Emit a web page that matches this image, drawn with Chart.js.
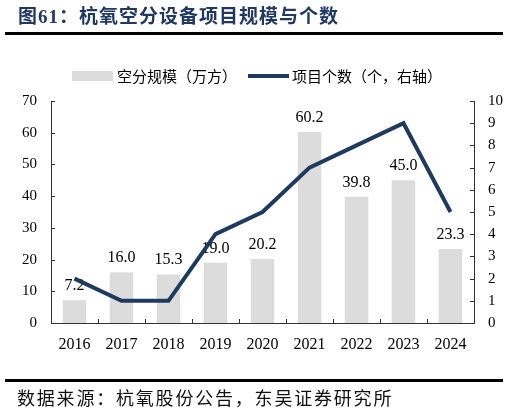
<!DOCTYPE html>
<html><head><meta charset="utf-8">
<script src="https://cdn.jsdelivr.net/npm/chart.js@4"></script>
<style>
html,body{margin:0;padding:0;background:#fff;}
body{width:509px;height:414px;position:relative;overflow:hidden;}
#title{position:absolute;left:18px;top:4px;font-family:"Liberation Serif","Noto Sans CJK SC",serif;font-weight:700;font-size:19px;letter-spacing:1px;color:#1f3864;white-space:nowrap;line-height:26px;}
#tline{position:absolute;left:5px;top:32px;width:498px;height:2.5px;background:#000;}
#bline{position:absolute;left:5px;top:379px;width:498px;height:2.5px;background:#000;}
#foot{position:absolute;left:17px;top:384px;font-family:"Noto Sans CJK SC",sans-serif;font-size:18px;letter-spacing:1.8px;color:#111;white-space:nowrap;line-height:26px;}
canvas{position:absolute;left:0;top:0;}
</style></head>
<body>
<canvas id="c" width="509" height="414"></canvas>
<div id="title">图61：杭氧空分设备项目规模与个数</div>
<div id="tline"></div>
<div id="bline"></div>
<div id="foot">数据来源：杭氧股份公告，东吴证券研究所</div>
<script>
const categories = ['2016','2017','2018','2019','2020','2021','2022','2023','2024'];
const scaleValues = [7.2, 16.0, 15.3, 19.0, 20.2, 60.2, 39.8, 45.0, 23.3];
const projectCounts = [2, 1, 1, 4, 5, 7, 8, 9, 5];
const seriesNames = ['空分规模（万方）', '项目个数（个，右轴）'];

const BAR = '#dcdcdc', LINE = '#1f3a5f';
const serif = '"Liberation Serif", "Times New Roman", serif';
const cjk = '"Noto Sans CJK SC", sans-serif';

const labelsPlugin = {
  id: 'barLabels',
  afterDatasetDraw(chart, args) {
    if (args.index !== 0) return;
    const ctx = chart.ctx;
    ctx.save();
    ctx.font = '16px ' + serif;
    ctx.fillStyle = '#000';
    ctx.textAlign = 'center';
    ctx.textBaseline = 'alphabetic';
    args.meta.data.forEach((el, i) => {
      ctx.fillText(scaleValues[i].toFixed(1), el.x, el.y - 10);
    });
    ctx.restore();
  }
};

const tickPlugin = {
  id: 'innerTicks',
  afterDraw(chart) {
    const ctx = chart.ctx, a = chart.chartArea;
    const y = chart.scales.y, y1 = chart.scales.y1, x = chart.scales.x;
    ctx.save();
    ctx.strokeStyle = '#333';
    ctx.lineWidth = 1;
    ctx.beginPath();
    y.ticks.forEach((t, i) => { const p = Math.round(y.getPixelForTick(i)) + 0.5; ctx.moveTo(a.left, p); ctx.lineTo(a.left + 4, p); });
    y1.ticks.forEach((t, i) => { const p = Math.round(y1.getPixelForTick(i)) + 0.5; ctx.moveTo(a.right, p); ctx.lineTo(a.right - 4, p); });
    const n = categories.length;
    for (let i = 1; i < n; i++) {
      const p = Math.round((x.getPixelForTick(i - 1) + x.getPixelForTick(i)) / 2) + 0.5;
      ctx.moveTo(p, a.bottom); ctx.lineTo(p, a.bottom - 4);
    }
    ctx.stroke();
    ctx.restore();
  }
};

const legendPlugin = {
  id: 'customLegend',
  afterDraw(chart) {
    const ctx = chart.ctx;
    const ds = chart.data.datasets;
    ctx.save();
    ctx.font = '15px ' + cjk;
    const w0 = ctx.measureText(ds[0].label).width;
    const w1 = ctx.measureText(ds[1].label).width;
    const total = 41 + 4 + w0 + 11 + 41 + 3 + w1;
    let xx = 257 - total / 2;
    const cy = 76;
    ctx.fillStyle = ds[0].backgroundColor;
    ctx.fillRect(xx, cy - 5, 41, 10);
    xx += 45;
    ctx.fillStyle = '#000';
    ctx.textAlign = 'left';
    ctx.textBaseline = 'middle';
    ctx.fillText(ds[0].label, xx, cy);
    xx += w0 + 11;
    ctx.strokeStyle = ds[1].borderColor;
    ctx.lineWidth = 4;
    ctx.beginPath(); ctx.moveTo(xx, cy); ctx.lineTo(xx + 41, cy); ctx.stroke();
    xx += 44;
    ctx.fillText(ds[1].label, xx, cy);
    ctx.restore();
  }
};

new Chart(document.getElementById('c'), {
  data: {
    labels: categories,
    datasets: [
      { type: 'bar', label: seriesNames[0], data: scaleValues, backgroundColor: BAR, borderWidth: 0,
        barPercentage: 0.5, categoryPercentage: 1.0, yAxisID: 'y', order: 1 },
      { type: 'line', label: seriesNames[1], data: projectCounts, borderColor: LINE, backgroundColor: LINE,
        borderWidth: 4, pointRadius: 0, tension: 0, borderJoinStyle: 'miter', yAxisID: 'y1', order: 0 }
    ]
  },
  options: {
    responsive: false,
    animation: false,
    devicePixelRatio: 1,
    layout: { padding: { top: 101, left: 0, right: 0, bottom: 0 } },
    plugins: { legend: { display: false }, tooltip: { enabled: false } },
    scales: {
      x: {
        grid: { display: false, drawTicks: false },
        border: { display: true, color: '#333', width: 1 },
        ticks: { font: { family: serif, size: 16 }, color: '#000', padding: 12, maxRotation: 0 },
        afterFit(s) { s.height = 91; }
      },
      y: {
        position: 'left', min: 0, max: 70,
        grid: { display: false, drawTicks: false },
        border: { display: true, color: '#333', width: 1 },
        ticks: { stepSize: 10, font: { family: serif, size: 15 }, color: '#000', padding: 14 },
        afterFit(s) { s.width = 51; }
      },
      y1: {
        position: 'right', min: 0, max: 10,
        grid: { display: false, drawTicks: false },
        border: { display: true, color: '#333', width: 1 },
        ticks: { stepSize: 1, font: { family: serif, size: 15 }, color: '#000', padding: 14 },
        afterFit(s) { s.width = 35; }
      }
    }
  },
  plugins: [labelsPlugin, tickPlugin, legendPlugin]
});
</script>
</body></html>
